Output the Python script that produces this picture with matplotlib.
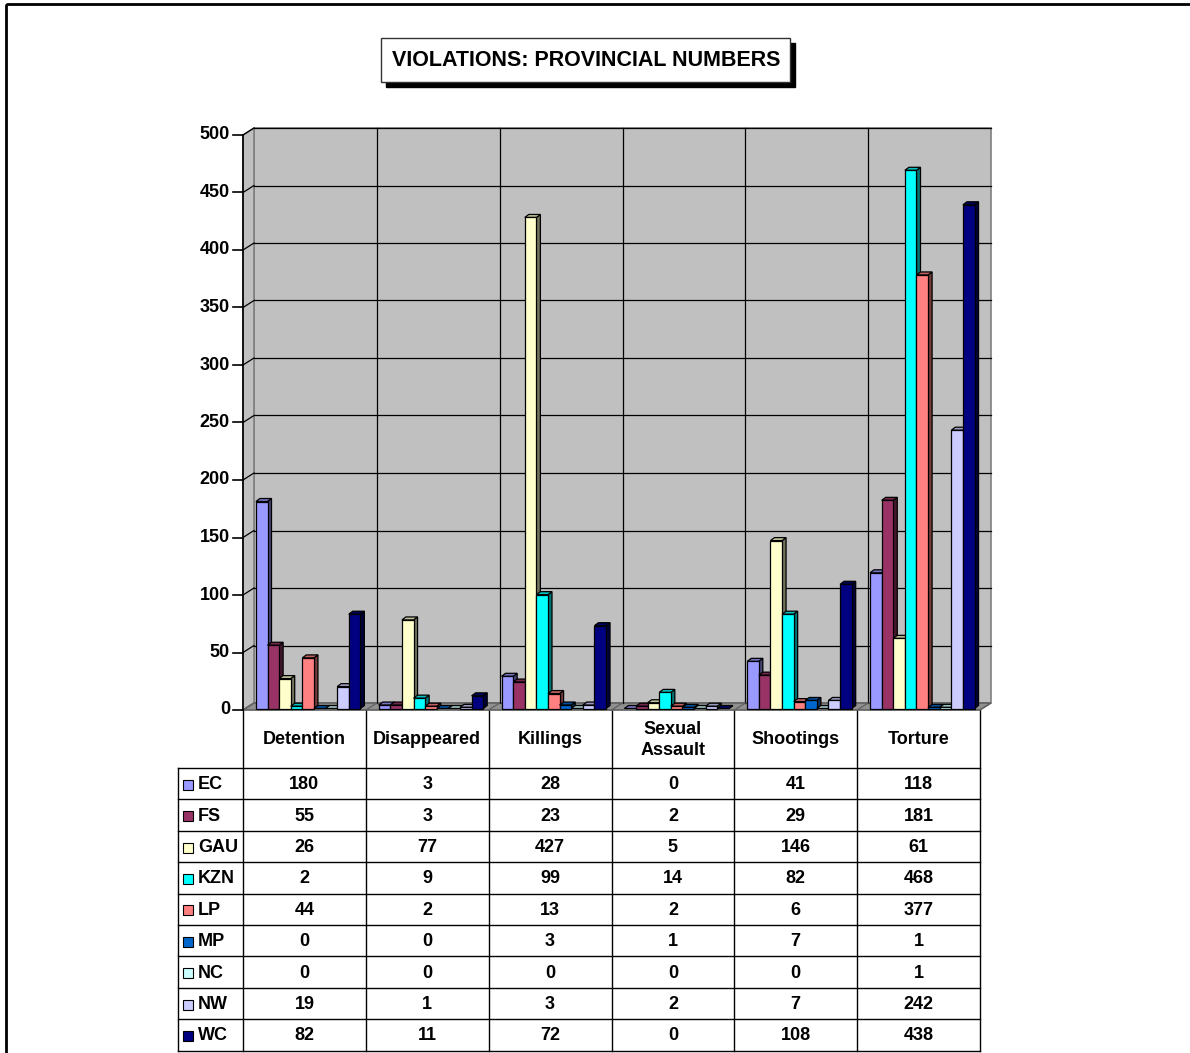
import numpy as np
import matplotlib.pyplot as plt
from matplotlib.patches import Polygon, Rectangle
import matplotlib.colors as mcolors

plt.rcParams['font.family'] = ['Liberation Sans', 'DejaVu Sans']
plt.rcParams['font.weight'] = 'bold'

# ===============================
# Data
# ===============================
categories = ['Detention', 'Disappeared', 'Killings', 'Sexual\nAssault', 'Shootings', 'Torture']
provinces = ['EC', 'FS', 'GAU', 'KZN', 'LP', 'MP', 'NC', 'NW', 'WC']
ec = [180, 3, 28, 0, 41, 118]
fs = [55, 3, 23, 2, 29, 181]
gau = [26, 77, 427, 5, 146, 61]
kzn = [2, 9, 99, 14, 82, 468]
lp = [44, 2, 13, 2, 6, 377]
mp = [0, 0, 3, 1, 7, 1]
nc = [0, 0, 0, 0, 0, 1]
nw = [19, 1, 3, 2, 7, 242]
wc = [82, 11, 72, 0, 108, 438]
series = [ec, fs, gau, kzn, lp, mp, nc, nw, wc]
colors = ['#9999FF', '#993366', '#FFFFCC', '#00FFFF', '#FF8080',
          '#0066CC', '#CCFFFF', '#CCCCFF', '#000080']
yticks = [0, 50, 100, 150, 200, 250, 300, 350, 400, 450, 500]
title = 'VIOLATIONS: PROVINCIAL NUMBERS'

# ===============================
# Layout (pixels)
# ===============================
W, H = 1190, 1053
AX_L, AX_R, AX_T, AX_B = 243, 980, 135, 710
LBL_L = 178
HDR_B = 768
ROW_H = 31.4
WALL_DX, WALL_DY = 11, 7
BAR_DX, BAR_DY = 4, 3
FS_TXT = 13

fig = plt.figure(figsize=(W / 100, H / 100), dpi=100)
fig.patch.set_facecolor('white')

bg = fig.add_axes([0, 0, 1, 1])
bg.set_xlim(0, W)
bg.set_ylim(H, 0)
bg.axis('off')

# outer frame
bg.add_patch(Rectangle((6, 4), W + 20, H + 20, fill=False, edgecolor='black', lw=2))

# title box with shadow
bg.add_patch(Rectangle((386, 43), 409, 44, facecolor='black', edgecolor='black'))
bg.add_patch(Rectangle((381, 38), 409, 44, facecolor='white', edgecolor='#333333', lw=1))
bg.text(586, 60, title, ha='center', va='center', fontsize=15.5, fontweight='bold')

# chart axes
ax = fig.add_axes([AX_L / W, 1 - AX_B / H, (AX_R - AX_L) / W, (AX_B - AX_T) / H])
ax.set_xlim(0, 6)
ax.set_ylim(0, 500)
ax.axis('off')
ax.patch.set_visible(False)

px_x = 6 / (AX_R - AX_L)
px_y = 500 / (AX_B - AX_T)
wdx, wdy = WALL_DX * px_x, WALL_DY * px_y
bdx, bdy = BAR_DX * px_x, BAR_DY * px_y

# back wall and side wall
ax.add_patch(Rectangle((wdx, wdy), 6, 500, facecolor='#C0C0C0', edgecolor='#808080',
                       lw=1.2, clip_on=False, zorder=1))
ax.add_patch(Polygon([(0, 0), (wdx, wdy), (wdx, 500 + wdy), (0, 500)], closed=True,
                     facecolor='#C0C0C0', edgecolor='#808080', lw=1.2, clip_on=False, zorder=1))
# floor
ax.add_patch(Polygon([(0, 0), (6, 0), (6 + wdx, wdy), (wdx, wdy)], closed=True,
                     facecolor='#909090', edgecolor='#606060', lw=1.2, clip_on=False, zorder=1))

for t in yticks[1:]:
    ax.plot([wdx, 6 + wdx], [t + wdy, t + wdy], color='black', lw=0.9, zorder=2, clip_on=False)
    ax.plot([0, wdx], [t, t + wdy], color='black', lw=0.9, zorder=2, clip_on=False)
for i in range(1, 6):
    ax.plot([i + wdx, i + wdx], [wdy, 500 + wdy], color='black', lw=0.9, zorder=2, clip_on=False)
    ax.plot([i, i + wdx], [0, wdy], color='#606060', lw=0.9, zorder=2, clip_on=False)

# y axis with ticks
ax.plot([0, 0], [0, 500], color='black', lw=1.2, zorder=3, clip_on=False)
for t in yticks:
    ax.plot([-10 * px_x, 0], [t, t], color='black', lw=1.2, zorder=3, clip_on=False)
    ax.text(-13 * px_x, t, str(t), ha='right', va='center', fontsize=FS_TXT, fontweight='bold')

# 3D bars
bar_w = 0.0945
start = 0.105
base = 1.5 * px_y
for j, (vals, c) in enumerate(zip(series, colors)):
    rgb = np.array(mcolors.to_rgb(c))
    side = rgb * 0.45
    top = rgb * 0.75
    for i, v in enumerate(vals):
        x0 = i + start + j * bar_w
        x1 = x0 + bar_w
        y0 = base
        y1 = base + v
        z = 5 + j
        ax.add_patch(Polygon([(x1, y0), (x1 + bdx, y0 + bdy), (x1 + bdx, y1 + bdy), (x1, y1)],
                             closed=True, facecolor=side, edgecolor='black', lw=0.9,
                             clip_on=False, zorder=z))
        ax.add_patch(Polygon([(x0, y1), (x1, y1), (x1 + bdx, y1 + bdy), (x0 + bdx, y1 + bdy)],
                             closed=True, facecolor=top, edgecolor='black', lw=0.9,
                             clip_on=False, zorder=z))
        if v > 0:
            ax.add_patch(Rectangle((x0, y0), bar_w, v, facecolor=c, edgecolor='black',
                                   lw=0.9, clip_on=False, zorder=z))

# ===============================
# Data table
# ===============================
cw = (AX_R - AX_L) / 6
col_x = [AX_L + k * cw for k in range(7)]
tab_b = HDR_B + ROW_H * len(provinces)
for x in col_x:
    bg.plot([x, x], [AX_B, tab_b], color='black', lw=1)
bg.plot([LBL_L, LBL_L], [HDR_B, tab_b], color='black', lw=1)
for r in range(len(provinces) + 1):
    y = HDR_B + r * ROW_H
    bg.plot([LBL_L, AX_R], [y, y], color='black', lw=1)

for k, name in enumerate(categories):
    bg.text(col_x[k] + cw / 2, (AX_B + HDR_B) / 2 + 1, name, ha='center', va='center',
            fontsize=FS_TXT, fontweight='bold', linespacing=1.25)

for r, (prov, vals, c) in enumerate(zip(provinces, series, colors)):
    yc = HDR_B + (r + 0.5) * ROW_H + 1
    bg.add_patch(Rectangle((183, yc - 5), 10, 10, facecolor=c, edgecolor='black', lw=0.8))
    bg.text(198, yc, prov, ha='left', va='center', fontsize=FS_TXT, fontweight='bold')
    for k, v in enumerate(vals):
        bg.text(col_x[k] + cw / 2, yc, str(v), ha='center', va='center',
                fontsize=FS_TXT, fontweight='bold')

fig.savefig('out.png', dpi=100)
